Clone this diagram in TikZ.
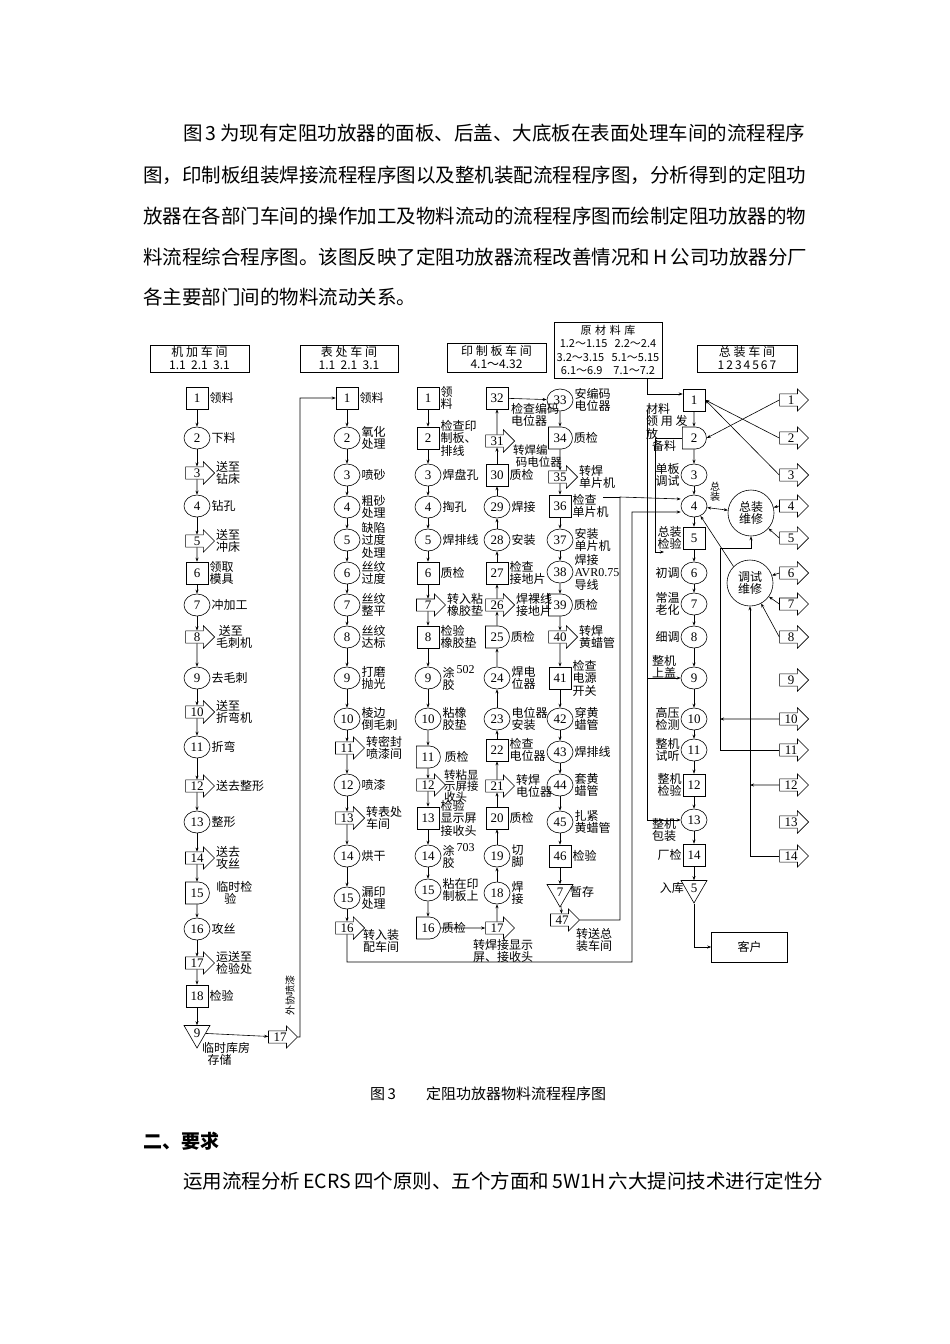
\documentclass[tikz,border=0pt]{standalone}
\usepackage{fontspec}
\setmainfont{Noto Sans CJK SC}
\newfontfamily\numf{Liberation Serif}
\usetikzlibrary{shapes.geometric,shapes.arrows,shapes.misc,arrows.meta,calc}
\tikzset{
 base/.style={draw,line width=0.6pt,font=\numf\fontsize{13}{13}\selectfont,inner sep=0pt},
 box/.style={base,rectangle,minimum width=22pt,minimum height=22pt},
 circ/.style={base,ellipse,minimum width=26pt,minimum height=22pt},
 dly/.style={base,rounded rectangle,rounded rectangle left arc=none,minimum width=24pt,minimum height=22pt},
 arr/.style={base,single arrow,single arrow head extend=5pt,minimum height=29pt,inner sep=1.5pt,text width=15pt,align=center},
 tri/.style={base,regular polygon,regular polygon sides=3,shape border rotate=180,minimum size=30pt},
 lab/.style={font=\fontsize{12}{12.5}\selectfont,align=left,inner sep=1pt},
 hdr/.style={draw,line width=0.6pt,font=\fontsize{12}{13}\selectfont,align=center,inner sep=1pt},
 para/.style={font=\fontsize{19.5}{20}\selectfont,anchor=west,inner sep=0pt},
 ln/.style={line width=0.6pt},
 >={Stealth[length=4pt,width=3pt]}
}
\begin{document}
\begin{tikzpicture}[x=1pt,y=-1pt]
\useasboundingbox (0,0) rectangle (950,1344);
\fill[white] (0,0) rectangle (950,1344);
% paragraph
\node[para] (p1) at (183,133) {图\,3\,为现有定阻功放器的面板、后盖、大底板在表面处理车间的流程程序};
\node[para] (p2) at (143,175) {图，印制板组装焊接流程程序图以及整机装配流程程序图，分析得到的定阻功};
\node[para] (p3) at (143,216) {放器在各部门车间的操作加工及物料流动的流程程序图而绘制定阻功放器的物};
\node[para] (p4) at (143,257) {料流程综合程序图。该图反映了定阻功放器流程改善情况和\,H\,公司功放器分厂};
\node[para] (p5) at (143,297) {各主要部门间的物料流动关系。};
\node[font=\fontsize{15}{15}\selectfont,anchor=west,inner sep=0pt] (cap) at (370,1094) {图\,3\hspace{2em}定阻功放器物料流程程序图};
\node[para,font=\fontsize{19}{19}\selectfont\bfseries] (h2) at (143,1141) {二、要求};
\node[para] (p6) at (183,1181) {运用流程分析\,ECRS\,四个原则、五个方面和\,5W1H\,六大提问技术进行定性分};
% headers
\node[hdr,minimum width=99pt,minimum height=27pt] (h1) at (199.5,358.5) {机\ 加\ 车\ 间\\1.1\ \ 2.1\ \ 3.1};
\node[hdr,minimum width=98pt,minimum height=27pt] (hb) at (349,358.5) {表\ 处\ 车\ 间\\1.1\ \ 2.1\ \ 3.1};
\node[hdr,minimum width=99pt,minimum height=29pt] (hc) at (496.5,357.5) {印\ 制\ 板\ 车\ 间\\4.1～4.32};
\node[hdr,text width=106pt,minimum height=56pt,font=\fontsize{11}{13.5}\selectfont] (raw) at (608,350) {原\ 材\ 料\ 库\\1.2～1.15\ \ 2.2～2.4\\3.2～3.15\ \ 5.1～5.15\\6.1～6.9\ \ \ 7.1～7.2};
\node[hdr,minimum width=100pt,minimum height=27pt] (hz) at (747,358.5) {总\ 装\ 车\ 间\\1\,2\,3\,4\,5\,6\,7};
% column 1
\foreach \t/\n/\y/\l in {box/1/398/{领料},circ/2/438/{下料},arr/3/473/{送至\\钻床},circ/4/506/{钻孔},arr/5/541/{送至\\冲床},box/6/573/{领取\\模具},circ/7/605/{冲加工},arr/8/637/{\ 送至\\毛刺机},circ/9/678/{去毛刺},arr/10/712/{送至\\折弯机},circ/11/747/{折弯},arr/12/786/{送去整形},circ/13/822/{整形},arr/14/858/{送去\\攻丝},dly/15/893/{\ \ 临时检\\\ \ \ \ \ 验},circ/16/929/{攻丝},arr/17/963/{运送至\\检验处},box/18/996/{检验}}
  \node[\t,label={[lab]right:{\l}}] (a\n) at (197,\y) {\n};
\node[tri] (at9) at (197,1033) {9};
\node[lab,anchor=north west] (at9l) at (201,1041) {临时库房\\\ \ 存储};
\foreach \i [evaluate=\i as \j using int(\i+1)] in {1,...,17} \draw[ln,->] (a\i) -- (a\j);
\draw[ln,->] (a18) -- (at9);
\node[arr] (x17) at (280,1037) {17};
\draw[ln,->] (at9) -- (x17);
% column 2
\foreach \t/\n/\y/\l in {box/1/398/{领料},circ/2/438/{氧化\\处理},circ/3/475/{喷砂},circ/4/507/{粗砂\\处理},circ/5/540/{缺陷\\过度\\处理},circ/6/573/{丝纹\\过度},circ/7/605/{丝纹\\整平},circ/8/637/{丝纹\\达标},circ/9/678/{打磨\\抛光},circ/10/719/{棱边\\倒毛刺},arr/11/748/{转密封\\喷漆间},circ/12/785/{喷漆},arr/13/818/{转表处\\车间},circ/14/856/{烘干},circ/15/898/{漏印\\处理},arr/16/928/{}}
  \node[\t,label={[lab]right:{\l}}] (b\n) at (347,\y) {\n};
\node[lab,anchor=north west] (b16l) at (362,928) {转入装\\配车间};
\foreach \i [evaluate=\i as \j using int(\i+1)] in {1,...,15} \draw[ln,->] (b\i) -- (b\j);
\draw[ln,->] (x17.east) -- (300,1037) |- (b1.west);
\node[lab,rotate=90,font=\fontsize{10}{10}\selectfont] (wx) at (290,995) {外协喷漆};
% column 3
\foreach \t/\n/\y/\l in {box/1/398/{领\\料},box/2/438/{检查印\\制板、\\排线},circ/3/475/{焊盘孔},circ/4/507/{掏孔},circ/5/540/{焊排线},box/6/573/{质检},arr/7/605/{转入粘\\橡胶垫},box/8/637/{检验\\橡胶垫},circ/9/678/{涂\,\raisebox{4pt}{\numf 502}\\胶},circ/10/719/{粘橡\\胶垫},dly/11/757/{\ 质检},arr/12/785/{},box/13/818/{检验\\显示屏\\接收头},circ/14/856/{涂\,\raisebox{4pt}{\numf 703}\\胶},circ/15/890/{粘在印\\制板上},dly/16/928/{质检}}
  \node[\t,label={[lab]right:{\l}}] (c\n) at (428,\y) {\n};
\node[lab,font=\fontsize{11.5}{11}\selectfont,anchor=west] (c12l) at (443,786) {转粘显\\示屏接\\收头};
\foreach \i [evaluate=\i as \j using int(\i+1)] in {1,...,15} \draw[ln,->] (c\i) -- (c\j);
% column 4
\foreach \t/\n/\y/\l in {arr/17/928/{},circ/18/893/{焊\\接},circ/19/856/{切\\脚},box/20/818/{质检},arr/21/786/{转焊\\电位器},box/22/750/{检查\\电位器},circ/23/719/{电位器\\安装},circ/24/678/{焊电\\位器},dly/25/637/{质检},arr/26/605/{焊裸线\\接地片},box/27/573/{检查\\接地片},circ/28/540/{安装},circ/29/507/{焊接},box/30/475/{质检},arr/31/441/{},box/32/398/{}}
  \node[\t,label={[lab]right:{\l}}] (c\n) at (497,\y) {\n};
\node[lab,anchor=north west] (c17l) at (472,938) {转焊接显示\\屏、接收头};
\node[lab,anchor=north west,font=\fontsize{11.5}{11.5}\selectfont] (c31l) at (512,444) {转焊编\\\ 码电位器};
\node[lab,anchor=north west] (c32l) at (510,402) {检查编码\\电位器};
\draw[ln,->] (c16) -- (c17);
\foreach \i [evaluate=\i as \j using int(\i+1)] in {17,...,31} \draw[ln,->] (c\i) -- (c\j);
% column 5
\foreach \t/\n/\y/\l in {circ/33/400/{安编码\\电位器},dly/34/438/{质检},arr/35/477/{转焊\\单片机},box/36/506/{检查\\单片机},circ/37/540/{安装\\单片机},circ/38/572/{焊接\\{\numf AVR0.75}\\导线},dly/39/605/{质检},arr/40/637/{转焊\\黄蜡管},box/41/678/{检查\\电源\\开关},circ/42/719/{穿黄\\蜡管},circ/43/752/{焊排线},circ/44/785/{套黄\\蜡管},circ/45/822/{扎紧\\黄蜡管},box/46/856/{检验}}
  \node[\t,label={[lab]right:{\l}}] (c\n) at (560,\y) {\n};
\node[tri,label={[lab]right:暂存}] (ct7) at (560,892) {7};
\node[arr] (c47) at (562,920) {47};
\node[lab,anchor=north west] (c47l) at (575,927) {转送总\\装车间};
\draw[ln,->] (c32) -- (c33);
\foreach \i [evaluate=\i as \j using int(\i+1)] in {33,...,45} \draw[ln,->] (c\i) -- (c\j);
\draw[ln,->] (c46) -- (ct7); \draw[ln,->] (ct7) -- (c47);
% column 6
\foreach \t/\n/\y/\l in {box/1/400/{},dly/2/438/{},circ/3/475/{单板\\调试},circ/4/506/{},box/5/538/{总装\\检验},circ/6/573/{初调},circ/7/604/{常温\\老化},circ/8/637/{细调},circ/9/678/{},circ/10/719/{高压\\检测},circ/11/750/{整机\\试听},box/12/785/{整机\\检验},circ/13/820/{},box/14/855/{厂检}}
  \node[\t,label={[lab]left:{\l}}] (z\n) at (694,\y) {\n};
\node[tri,label={[lab]left:入库}] (zt5) at (694,888) {5};
\foreach \i [evaluate=\i as \j using int(\i+1)] in {1,...,13} \draw[ln,->] (z\i) -- (z\j);
\draw[ln,->] (z14) -- (zt5);
\node[lab,anchor=north west] (z1l) at (645,402) {材料\\领\ 用\ 发\\放};
\node[lab] (z2l) at (664,446) {备料};
\node[lab] (z9l) at (664,667) {整机\\上盖};
\node[lab] (z13l) at (664,830) {整机\\包装};
\node[lab,font=\fontsize{10}{10}\selectfont] (z4l) at (715,492) {总\\装};
\node[draw,ln,minimum width=76pt,minimum height=30pt,font=\fontsize{12}{12}\selectfont] (cust) at (749.5,947) {客户};
\draw[ln,->] (zt5) |- (cust.west);
% repair ellipses
\node[draw,ln,ellipse,minimum width=46pt,minimum height=46pt,lab] (m1) at (751,513) {总装\\维修};
\node[draw,ln,ellipse,minimum width=46pt,minimum height=46pt,lab] (m2) at (750,583) {调试\\维修};
% right arrows
\foreach \n/\y in {1/400,2/438,3/475,4/506,5/538,6/573,7/604,8/637,9/680,10/719,11/750,12/785,13/822,14/856}
  \node[arr] (r\n) at (791,\y) {\n};
\draw[ln,->] (r1.west) -- (z2.east);
\draw[ln,->] (r2.west) -- (z1.east);
\draw[ln,->] (r3.west) -- (z1.east);
\draw[ln,->] (r4.west) -- (m1);
\draw[ln,->] (r5.west) -- (m1);
\draw[ln,<->] (m1) -- (z4);
\draw[ln,->] (r6.west) -- (m2);
\draw[ln,->] (r7.west) -- (m2);
\draw[ln,->] (r8.west) -- (m2);
\draw[ln,->] (m2.north west) -- (z4);
\coordinate (v1) at (750,785);
\coordinate (v2) at (720,719);
\draw[ln,->] (r14.west) -| (m2.south);
\draw[ln,->] (r12.west) -- (v1);
\draw[ln,->] (r11.west) -| (720,548) -| (m1.south);
\draw[ln,->] (r10.west) -- (v2);
% left feeds to column 6
\coordinate (rw) at (647,378);
\draw[ln,->] (rw) |- ($(z1.west)+(0,-6)$);
\draw[ln] (647,410) -- (647,820);
\draw[ln,->] (647,678) -- (z9.west);
\draw[ln,->] (647,820) -- (z13.west);
\draw[ln,->] (z2.west) -| (655,552) -- (664,552);
\coordinate (k36) at (603,497);
\draw[ln,->] (c47.east) -- (620,920) -- (620,497) -- ($(z4.west)+(0,-7)$);
\draw[ln] (k36) -- (620,497);
\draw[ln,->] (b16.south) -- (347,962) -- (632,962) -- (632,512) -- ($(z4.west)+(0,6)$);
\end{tikzpicture}
\end{document}
